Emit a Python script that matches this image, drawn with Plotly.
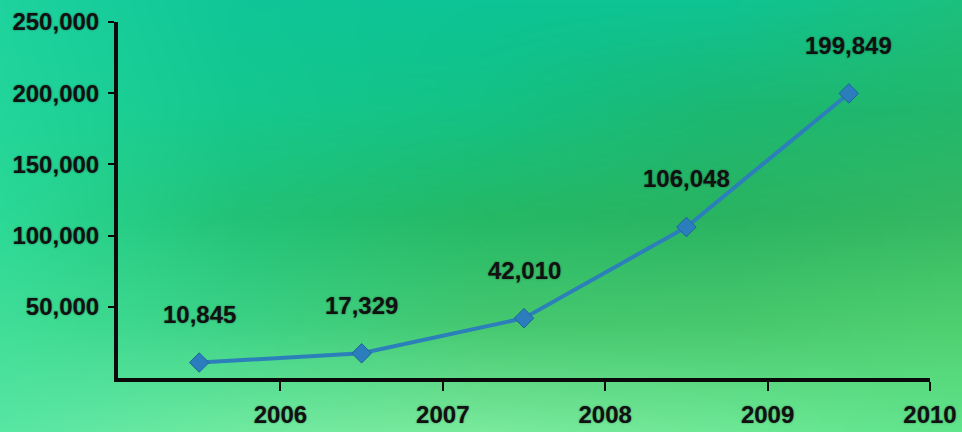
import base64
import struct
import zlib

import numpy as np
import plotly.graph_objects as go

# ---- data ----
tick_labels = ["2006", "2007", "2008", "2009", "2010"]
values = [10845, 17329, 42010, 106048, 199849]
y_ticks = [50000, 100000, 150000, 200000, 250000]

# ---- background gradient (decorative) ----
grid_hex = [
    ["#1ed39e", "#10c698", "#0cc496", "#0fc493", "#1cc07e"],
    ["#22d59a", "#15c88e", "#14c285", "#1cb873", "#22b86c"],
    ["#2bd996", "#22c277", "#25b966", "#2ab461", "#35b862"],
    ["#40de98", "#3cd286", "#45c870", "#48c86e", "#4fd070"],
    ["#58e6a4", "#70eaa0", "#7aea9c", "#6ee896", "#60e48c"],
]


def hex_rgb(h):
    h = h.lstrip("#")
    return [int(h[i:i + 2], 16) for i in (0, 2, 4)]


def gradient_png(W=241, H=108):
    g = np.array([[hex_rgb(c) for c in row] for row in grid_hex], dtype=float)
    nr, nc = g.shape[0], g.shape[1]
    gy = np.linspace(0, nr - 1, H)
    gx = np.linspace(0, nc - 1, W)
    y0 = np.clip(np.floor(gy).astype(int), 0, nr - 2)
    x0 = np.clip(np.floor(gx).astype(int), 0, nc - 2)
    ty = (gy - y0)[:, None, None]
    tx = (gx - x0)[None, :, None]
    c00 = g[y0][:, x0]
    c01 = g[y0][:, x0 + 1]
    c10 = g[y0 + 1][:, x0]
    c11 = g[y0 + 1][:, x0 + 1]
    img = (c00 * (1 - tx) * (1 - ty) + c01 * tx * (1 - ty)
           + c10 * (1 - tx) * ty + c11 * tx * ty)
    img = np.clip(img, 0, 255).astype(np.uint8)
    raw = b"".join(b"\x00" + img[r].tobytes() for r in range(H))

    def chunk(tag, data):
        c = struct.pack(">I", len(data)) + tag + data
        return c + struct.pack(">I", zlib.crc32(tag + data) & 0xFFFFFFFF)

    png = b"\x89PNG\r\n\x1a\n"
    png += chunk(b"IHDR", struct.pack(">IIBBBBB", W, H, 8, 2, 0, 0, 0))
    png += chunk(b"IDAT", zlib.compress(raw, 9))
    png += chunk(b"IEND", b"")
    return "data:image/png;base64," + base64.b64encode(png).decode()


FONT = "Liberation Sans, Arial, sans-serif"
SHADOW = "0px 0px 2px rgba(0,0,0,0.45)"
FSIZE = 24

n = len(values)
xs = np.arange(n) + 0.5

fig = go.Figure()
fig.add_trace(go.Scatter(
    x=xs, y=values, mode="lines+markers",
    line=dict(color="#2c80b9", width=4),
    marker=dict(symbol="diamond", size=15, color="#2b7dbd",
                line=dict(color="#1e6499", width=1)),
    hoverinfo="skip", showlegend=False,
))

for x, v in zip(xs, values):
    fig.add_annotation(
        x=x, y=v, text=f"{v:,}", showarrow=False, yshift=48,
        font=dict(family=FONT, size=FSIZE, color="#111111", weight="bold",
                  shadow=SHADOW),
    )

fig.update_layout(
    width=962, height=432,
    margin=dict(l=0, r=0, t=0, b=0, autoexpand=False),
    paper_bgcolor="#2bc57c",
    plot_bgcolor="rgba(0,0,0,0)",
    images=[dict(source=gradient_png(), xref="paper", yref="paper",
                 x=0, y=1, sizex=1, sizey=1, sizing="stretch",
                 xanchor="left", yanchor="top", layer="below")],
    xaxis=dict(
        domain=[118 / 962, 930 / 962], range=[0, n], automargin=False,
        tickvals=list(range(1, n + 1)), ticktext=tick_labels,
        showline=True, linecolor="#0a0a0a", linewidth=4,
        ticks="outside", ticklen=9, tickwidth=2, tickcolor="#0a0a0a",
        showgrid=False, zeroline=False, ticklabelstandoff=3,
        tickfont=dict(family=FONT, size=FSIZE, color="#111111", weight="bold",
                      shadow=SHADOW),
    ),
    yaxis=dict(
        domain=[54 / 432, 410 / 432], range=[0, 250000], automargin=False,
        tickvals=y_ticks, ticktext=[f"{t:,}" for t in y_ticks],
        showline=True, linecolor="#0a0a0a", linewidth=4,
        ticks="outside", ticklen=6, tickwidth=2, tickcolor="#0a0a0a",
        showgrid=False, zeroline=False, ticklabelstandoff=4,
        tickfont=dict(family=FONT, size=FSIZE, color="#111111", weight="bold",
                      shadow=SHADOW),
    ),
)

fig.write_html("out.html")
